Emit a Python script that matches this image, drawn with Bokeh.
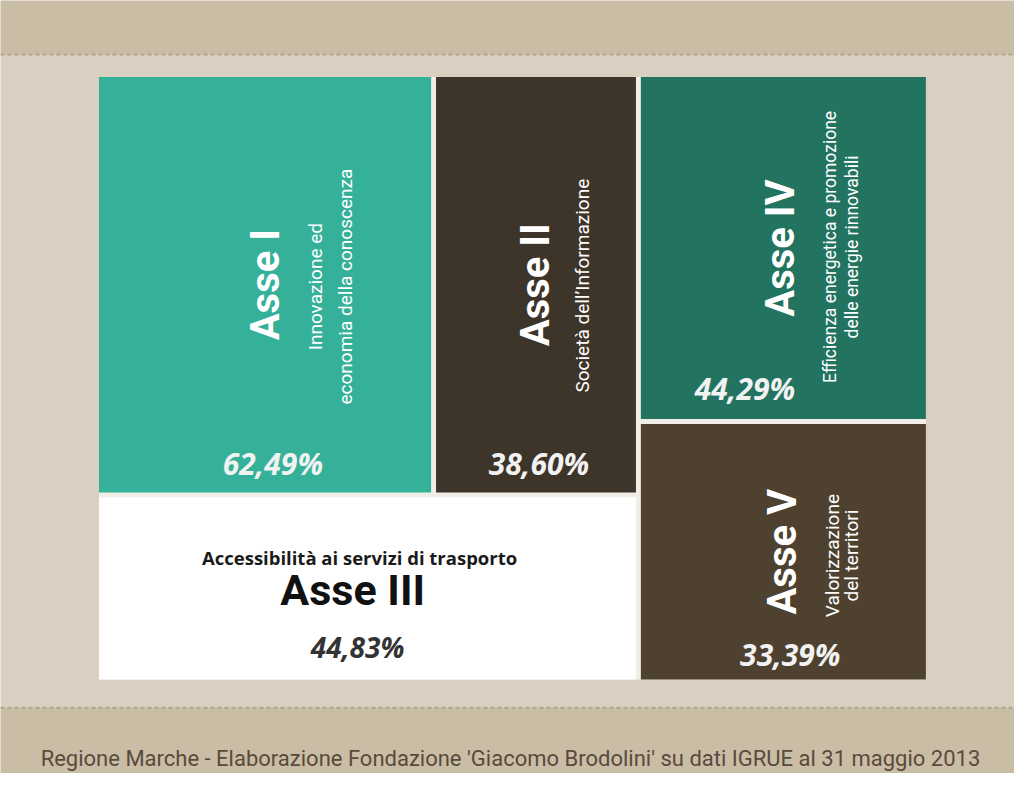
import math
from bokeh.plotting import figure
from bokeh.models import ColumnDataSource, Range1d
from bokeh.core.properties import value
from bokeh.embed import file_html
from bokeh.resources import INLINE

# ---------------- data ----------------
assi = ["Asse I", "Asse II", "Asse III", "Asse IV", "Asse V"]
descrizioni = [
    ["Innovazione ed", "economia della conoscenza"],
    ["Società dell’Informazione"],
    ["Accessibilità ai servizi di trasporto"],
    ["Efficienza energetica e promozione", "delle energie rinnovabili"],
    ["Valorizzazione", "del territori"],
]
percentuali = [62.49, 38.60, 44.83, 44.29, 33.39]
peso_area = [28.1, 17.2, 20.0, 19.9, 14.9]   # relative tile areas (estimated)
fonte = "Regione Marche - Elaborazione Fondazione 'Giacomo Brodolini' su dati IGRUE al 31 maggio 2013"

# ---------------- styles ----------------
colori = ["#35b19a", "#3d342a", "#ffffff", "#22735f", "#4e4130"]
col_testo = ["#ffffff", "#ffffff", "#111111", "#ffffff", "#ffffff"]
col_pct = ["#f2f2f2", "#f2f2f2", "#333333", "#f2f2f2", "#f2f2f2"]
COND = "Roboto"
SANS = "Open Sans"

W, H = 1014, 773
X0, X1, Y0, Y1, G = 100, 940, 78, 693, 5

# ---------------- treemap layout (slice & dice) ----------------
tot = sum(peso_area)
left = peso_area[0] + peso_area[1] + peso_area[2]
sx = X0 + (X1 - X0) * left / tot
top_row = peso_area[0] + peso_area[1]
sy = Y0 + (Y1 - Y0) * top_row / left
s12 = X0 + (sx - X0) * peso_area[0] / top_row
s45 = Y0 + (Y1 - Y0) * peso_area[3] / (peso_area[3] + peso_area[4])

rects = [
    (X0, s12 - G / 2, Y0, sy - G / 2),
    (s12 + G / 2, sx - G / 2, Y0, sy - G / 2),
    (X0, sx - G / 2, sy + G / 2, Y1),
    (sx + G / 2, X1, Y0, s45 - G / 2),
    (sx + G / 2, X1, s45 + G / 2, Y1),
]

p = figure(width=W, height=H, output_backend="svg", toolbar_location=None,
           x_range=Range1d(0, 1030), y_range=Range1d(789, 0),
           min_border=0, background_fill_color="#d9d0c1", border_fill_color="#d9d0c1")
p.axis.visible = False
p.grid.visible = False
p.outline_line_color = None

# background bands
p.quad(left=[0, 0], right=[1030, 1030], top=[0, 722], bottom=[55, 800],
       fill_color="#cabda6", line_color=None)
p.line(x=[0, 1030], y=[55, 55], line_color="#b3a58c", line_width=2, line_dash="4 3")
p.line(x=[0, 1030], y=[722, 722], line_color="#b3a58c", line_width=2, line_dash="4 3")

# light backing showing in the gaps
p.quad(left=[X0], right=[X1], top=[Y0], bottom=[Y1], fill_color="#f1eee7", line_color=None)

src = ColumnDataSource(dict(
    left=[r[0] for r in rects], right=[r[1] for r in rects],
    top=[r[2] for r in rects], bottom=[r[3] for r in rects], color=colori))
p.quad(left="left", right="right", top="top", bottom="bottom", fill_color="color",
       line_color=None, source=src)

def pct(v):
    return f"{v:.2f}".replace(".", ",") + "%"

ROT = math.pi / 2
# per-tile label placement relative to tile centre / bottom (layout only)
title_off = {0: (0, 0), 1: (-1, 0), 3: (-3, 0), 4: (-1, 0)}
sub_off = {0: [(51, 2), (82, 2)], 1: [(47, 1)], 3: [(47, -1), (70, -1)], 4: [(50, 4), (69, 4)]}
sub_size = {0: "19px", 1: "19px", 3: "17.5px", 4: "19px"}
pct_off = {0: (8, 30), 1: (3, 30), 3: (-39, 31), 4: (7, 25)}

for i in range(5):
    l, r, t, b = rects[i]
    cx, cy = (l + r) / 2, (t + b) / 2
    if i == 2:
        p.text(x=[cx - 8], y=[cy - 32], text=[descrizioni[i][0]], text_font=value(SANS),
               text_font_style="bold", text_font_size="18.5px", text_color="#1a1a1a",
               text_align="center", text_baseline="middle")
        p.text(x=[cx - 15], y=[cy + 2], text=[assi[i]], text_font=value(COND),
               text_font_style="bold", text_font_size="43px", text_color=col_testo[i],
               text_align="center", text_baseline="middle")
        p.text(x=[cx - 10], y=[cy + 60], text=[pct(percentuali[i])], text_font=value(SANS),
               text_font_style="bold italic", text_font_size="28px", text_color=col_pct[i],
               text_align="center", text_baseline="middle")
        continue
    dx, dy = title_off[i]
    p.text(x=[cx + dx], y=[cy + dy], text=[assi[i]], angle=ROT, text_font=value(COND),
           text_font_style="bold", text_font_size="40px", text_color=col_testo[i],
           text_align="center", text_baseline="middle")
    for line, (sdx, sdy) in zip(descrizioni[i], sub_off[i]):
        p.text(x=[cx + sdx], y=[cy + sdy], text=[line], angle=ROT, text_font=value(COND),
               text_font_size=sub_size[i], text_color=col_testo[i],
               text_align="center", text_baseline="middle")
    pdx, pdy = pct_off[i]
    p.text(x=[cx + pdx], y=[b - pdy], text=[pct(percentuali[i])], text_font=value(SANS),
           text_font_style="bold italic", text_font_size="30px", text_color=col_pct[i],
           text_align="center", text_baseline="middle")

p.text(x=[518], y=[774], text=[fonte], text_font=value(COND), text_font_size="22px",
       text_color="#5a4a3c", text_align="center", text_baseline="middle")

open("out.html", "w").write(file_html(p, INLINE))
